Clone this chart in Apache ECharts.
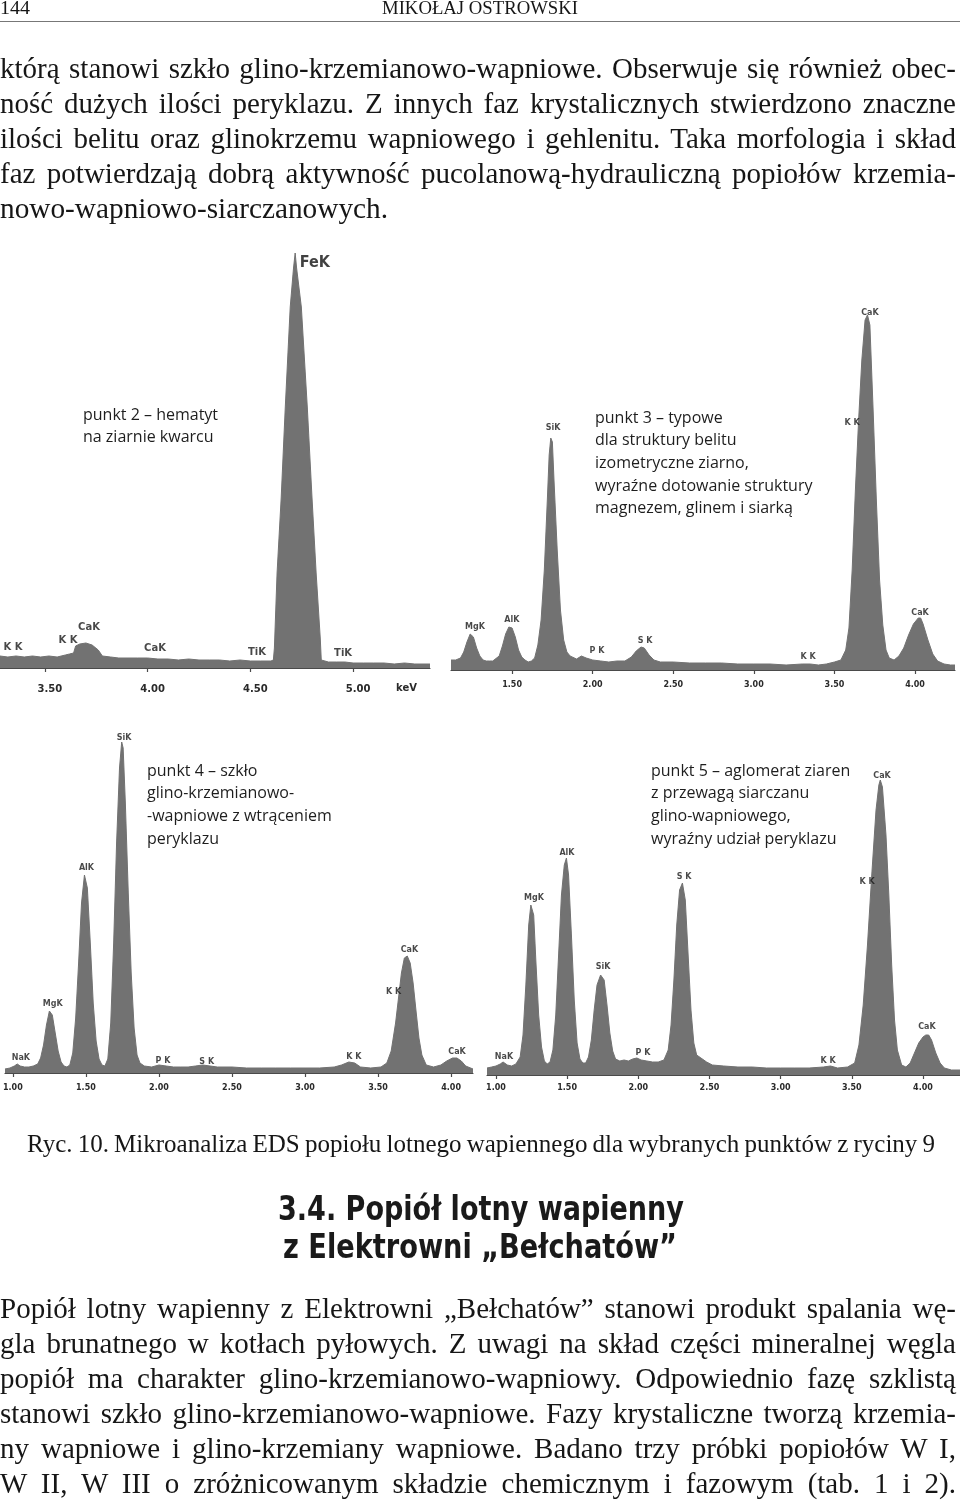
<!DOCTYPE html>
<html>
<head>
<meta charset="utf-8">
<script src="https://cdn.jsdelivr.net/npm/echarts@6/dist/echarts.min.js"></script>
<style>
  html, body { margin:0; padding:0; background:#fff; }
  body { width:960px; height:1501px; position:relative; overflow:hidden; }
  #chart { position:absolute; left:0; top:0; width:960px; height:1501px; }
  .ln { position:absolute; white-space:nowrap; line-height:35px; color:#161616;
        font-family:"Liberation Serif","DejaVu Serif",serif; font-size:29px; transform-origin:0 50%; }
  .hd { font-family:"Liberation Serif",serif; font-size:18px; line-height:20px; }
  .h2 { font-family:"DejaVu Sans Condensed","Liberation Sans",sans-serif;
        font-weight:bold; font-size:33px; line-height:40px; color:#1a1a1a; }
  #rule { position:absolute; left:0; top:21px; width:960px; height:1px; background:#777; }
</style>
</head>
<body>
<div id="chart"></div>
<div id="rule"></div>
<div id="text"></div>
<script>
// ---------------- DATA ----------------
// punkt 2 – hematyt (energy keV, counts)
const p2Energy = [3.282,3.32,3.36,3.40,3.44,3.48,3.52,3.56,3.60,3.62,3.64,3.65,3.67,3.70,3.73,3.76,3.78,3.82,3.86,3.90,3.95,4.00,4.05,4.10,4.15,4.20,4.25,4.30,4.35,4.40,4.45,4.50,4.55,4.60,4.612,4.617,4.63,4.65,4.67,4.694,4.71,4.718,4.725,4.748,4.777,4.80,4.82,4.84,4.845,4.88,4.92,4.96,5.00,5.05,5.10,5.15,5.20,5.25,5.30,5.374];
const p2Counts = [12,11,12,11,12,11,12,11,13,14,15,22,24,25,23,18,12,11,10,10,10,10,9,9,8,9,8,8,8,7,8,7,7,7,8,20,95,170,261,361,400,415,400,361,261,170,95,30,8,6,6,6,5,5,5,5,4,5,4,4];
const p2Ticks = [3.5,4.0,4.5,5.0];
const p2LabelNames = ["FeK","K K","K K","CaK","CaK","TiK","TiK"];
const p2LabelE = [4.814,3.345,3.613,3.715,4.036,4.532,4.951];
const p2LabelC = [405,21,28,41,20,16,15];

// punkt 3 – typowe dla struktury belitu
const p3Energy = [1.121,1.15,1.18,1.20,1.22,1.24,1.25,1.26,1.28,1.30,1.32,1.34,1.36,1.38,1.42,1.44,1.46,1.48,1.49,1.50,1.52,1.54,1.56,1.58,1.60,1.62,1.64,1.66,1.68,1.70,1.72,1.73,1.74,1.75,1.76,1.78,1.80,1.82,1.84,1.86,1.90,1.93,1.96,2.00,2.05,2.10,2.15,2.20,2.24,2.27,2.30,2.32,2.35,2.38,2.42,2.50,2.60,2.70,2.80,2.90,3.00,3.10,3.20,3.30,3.35,3.40,3.45,3.50,3.54,3.57,3.59,3.61,3.63,3.65,3.67,3.69,3.705,3.72,3.74,3.76,3.78,3.80,3.82,3.84,3.87,3.90,3.93,3.96,3.99,4.02,4.035,4.05,4.08,4.11,4.14,4.18,4.22,4.248];
const p3Counts = [10,10,12,18,28,36,37,33,22,14,10,9,9,9,14,24,36,43,44,42,33,20,13,10,8,9,12,25,50,100,175,215,232,228,190,120,60,30,18,14,11,14,12,10,9,8,9,9,13,19,23,22,15,10,8,8,7,7,7,6,6,6,5,6,6,5,6,8,10,20,42,100,180,250,310,350,355,345,260,170,90,45,20,12,10,14,22,35,46,52,52,46,30,16,9,6,5,5];
const p3Ticks = [1.5,2.0,2.5,3.0,3.5,4.0];
const p3LabelNames = ["MgK","AlK","SiK","P K","S K","K K","K K","CaK","CaK"];
const p3LabelE = [1.270,1.499,1.754,2.027,2.325,3.336,3.609,3.720,4.031];
const p3LabelC = [43,50,242,19,29,13,247,357,57];

// punkt 4 – szkło glino-krzemianowo-wapniowe
const p4Energy = [0.946,0.98,1.01,1.03,1.05,1.08,1.11,1.14,1.17,1.19,1.21,1.23,1.25,1.258,1.27,1.29,1.31,1.33,1.35,1.37,1.39,1.41,1.43,1.45,1.47,1.49,1.497,1.51,1.53,1.55,1.57,1.59,1.61,1.63,1.65,1.67,1.69,1.71,1.73,1.745,1.755,1.77,1.79,1.81,1.83,1.85,1.87,1.90,1.95,2.00,2.05,2.10,2.15,2.20,2.25,2.30,2.35,2.40,2.50,2.60,2.70,2.80,2.90,3.00,3.10,3.20,3.25,3.30,3.34,3.38,3.45,3.52,3.56,3.59,3.62,3.64,3.66,3.68,3.70,3.72,3.74,3.76,3.78,3.80,3.83,3.88,3.93,3.97,4.01,4.04,4.07,4.10,4.15];
const p4Counts = [4,5,7,9,7,6,6,7,9,15,28,48,62,64,58,40,22,11,7,6,8,20,55,110,170,198,200,185,130,70,32,14,8,7,14,50,130,230,305,331,325,270,180,100,45,18,10,7,6,8,7,6,6,6,7,8,7,6,6,5,5,5,5,5,5,6,8,11,10,6,5,6,10,22,50,75,100,115,117,110,90,62,35,18,8,6,8,12,15,15,12,7,4];
const p4Ticks = [1.0,1.5,2.0,2.5,3.0,3.5,4.0];
const p4LabelNames = ["NaK","MgK","AlK","SiK","P K","S K","K K","K K","CaK","CaK"];
const p4LabelE = [1.055,1.273,1.504,1.762,2.028,2.327,3.334,3.606,3.715,4.041];
const p4LabelC = [15,69,205,335,12,11,16,81,123,21];

// punkt 5 – aglomerat ziaren
const p5Energy = [0.937,0.97,1.00,1.03,1.05,1.08,1.11,1.14,1.17,1.19,1.21,1.23,1.245,1.253,1.265,1.28,1.30,1.32,1.34,1.36,1.38,1.40,1.42,1.44,1.46,1.48,1.495,1.51,1.53,1.55,1.57,1.59,1.61,1.63,1.65,1.67,1.69,1.71,1.735,1.747,1.76,1.78,1.80,1.82,1.84,1.87,1.90,1.93,1.96,1.99,2.02,2.06,2.10,2.14,2.18,2.21,2.23,2.25,2.27,2.29,2.31,2.33,2.35,2.37,2.39,2.41,2.44,2.48,2.52,2.60,2.70,2.80,2.90,3.00,3.10,3.20,3.30,3.35,3.40,3.47,3.52,3.55,3.58,3.61,3.64,3.67,3.69,3.70,3.715,3.74,3.76,3.78,3.80,3.82,3.85,3.88,3.91,3.94,3.97,4.00,4.02,4.04,4.06,4.09,4.12,4.15,4.20,4.26];
const p5Counts = [7,8,9,11,13,10,9,11,18,40,90,150,170,172,160,115,60,28,14,11,13,25,60,120,180,210,217,200,140,75,32,16,12,12,18,35,65,90,100,102,95,70,42,24,16,14,15,14,16,17,15,14,13,13,15,25,50,95,150,185,192,175,120,65,32,20,17,13,10,9,8,8,7,7,7,7,8,9,7,8,12,30,70,130,200,265,290,295,288,240,180,110,55,25,10,8,12,22,32,38,40,40,35,22,12,7,5,5];
const p5Ticks = [1.0,1.5,2.0,2.5,3.0,3.5,4.0];
const p5LabelNames = ["NaK","MgK","AlK","SiK","P K","S K","K K","K K","CaK","CaK"];
const p5LabelE = [1.056,1.267,1.499,1.752,2.033,2.321,3.333,3.607,3.712,4.028];
const p5LabelC = [18,177,222,108,22,198,14,193,299,48];

const notes = [
  "punkt 2 – hematyt\nna ziarnie kwarcu",
  "punkt 3 – typowe\ndla struktury belitu\nizometryczne ziarno,\nwyraźne dotowanie struktury\nmagnezem, glinem i siarką",
  "punkt 4 – szkło\nglino-krzemianowo-\n-wapniowe z wtrąceniem\nperyklazu",
  "punkt 5 – aglomerat ziaren\nz przewagą siarczanu\nglino-wapniowego,\nwyraźny udział peryklazu"
];

// ---------------- CHART ----------------
const FILL = '#727272';
const panels = [
  {E:p2Energy, C:p2Counts, ticks:p2Ticks, ln:p2LabelNames, le:p2LabelE, lc:p2LabelC,
   grid:{left:0, top:248, width:430, height:420}, min:3.282, max:5.374, ymax:420,
   off:5, lblSize:10, lblMargin:11, lblPad:[0,0,0,10], peakSize:10, note:[83,404]},
  {E:p3Energy, C:p3Counts, ticks:p3Ticks, ln:p3LabelNames, le:p3LabelE, lc:p3LabelC,
   grid:{left:451, top:250, width:504, height:420}, min:1.121, max:4.248, ymax:420,
   off:4, lblSize:8, lblMargin:7, lblPad:[0,0,0,0], peakSize:8, note:[595,407]},
  {E:p4Energy, C:p4Counts, ticks:p4Ticks, ln:p4LabelNames, le:p4LabelE, lc:p4LabelC,
   grid:{left:2, top:723, width:471, height:350}, min:0.946, max:4.15, ymax:350,
   off:3, lblSize:8, lblMargin:8, lblPad:[0,0,0,0], peakSize:8, note:[147,760]},
  {E:p5Energy, C:p5Counts, ticks:p5Ticks, ln:p5LabelNames, le:p5LabelE, lc:p5LabelC,
   grid:{left:487, top:725, width:473, height:350}, min:0.937, max:4.26, ymax:350,
   off:4, lblSize:8, lblMargin:5, lblPad:[0,0,0,0], peakSize:8, note:[651,760]}
];

const option = {
  animation:false,
  backgroundColor:'transparent',
  grid: panels.map(p => p.grid),
  xAxis: panels.map((p,i) => ({
    gridIndex:i, type:'value', min:p.min, max:p.max, offset:p.off,
    splitLine:{show:false},
    axisLine:{show:true, lineStyle:{color:'#4a4a4a', width:1.2}},
    axisTick:{show:true, customValues:p.ticks, length:4, lineStyle:{color:'#4a4a4a', width:1.2}},
    axisLabel:{show:true, customValues:p.ticks, formatter:v => v.toFixed(2),
      fontFamily:'DejaVu Sans', fontWeight:'bold', fontSize:p.lblSize, color:'#2a2a2a',
      margin:p.lblMargin, padding:p.lblPad}
  })),
  yAxis: panels.map((p,i) => ({gridIndex:i, type:'value', min:0, max:p.ymax, show:false})),
  series: [],
  graphic: []
};

panels.forEach((p,i) => {
  option.series.push({
    type:'line', xAxisIndex:i, yAxisIndex:i, symbol:'none', silent:true,
    data:p.E.map((e,k) => [e, p.C[k]]),
    lineStyle:{color:FILL, width:1}, areaStyle:{color:FILL, opacity:1}, z:2
  });
  option.series.push({
    type:'scatter', xAxisIndex:i, yAxisIndex:i, symbolSize:0, silent:true, z:5,
    data:p.ln.map((n,k) => ({name:n, value:[p.le[k], p.lc[k]],
      label: (i===0 && n==='FeK') ? {fontSize:16, fontFamily:'DejaVu Sans Condensed', color:'#111'} : {}})),
    label:{show:true, position:'inside', formatter:'{b}', fontFamily:'DejaVu Sans',
      fontWeight:'bold', fontSize:p.peakSize, color:'#1a1a1a'}
  });
  option.graphic.push({
    type:'text', left:p.note[0], top:p.note[1], silent:true,
    style:{text:notes[i], font:'16px "Open Sans"', fill:'#1e1e1e', lineHeight:22.6}
  });
});
option.graphic.push({
  type:'text', left:396, top:683, silent:true,
  style:{text:'keV', font:'bold 10px "DejaVu Sans"', fill:'#2a2a2a'}
});

const chart = echarts.init(document.getElementById('chart'), null, {renderer:'canvas'});
chart.setOption(option);

// ---------------- TEXT ----------------
const textLines = [
  {t:"144", cls:"hd", x:0, y:8, w:30, mode:"scale"},
  {t:"MIKOŁAJ OSTROWSKI", cls:"hd", cx:480, y:8, w:196, mode:"scale"},
  {t:"którą stanowi szkło glino-krzemianowo-wapniowe. Obserwuje się również obec-", x:0, y:68, w:956, mode:"justify"},
  {t:"ność dużych ilości peryklazu. Z innych faz krystalicznych stwierdzono znaczne", x:0, y:103, w:956, mode:"justify"},
  {t:"ilości belitu oraz glinokrzemu wapniowego i gehlenitu. Taka morfologia i skład", x:0, y:138, w:956, mode:"justify"},
  {t:"faz potwierdzają dobrą aktywność pucolanową-hydrauliczną popiołów krzemia-", x:0, y:173, w:956, mode:"justify"},
  {t:"nowo-wapniowo-siarczanowych.", x:0, y:208, w:388, mode:"scale"},
  {t:"Ryc. 10. Mikroanaliza EDS popiołu lotnego wapiennego dla wybranych punktów z ryciny 9", x:27, y:1143, w:908, mode:"justify", fs:25},
  {t:"3.4. Popiół lotny wapienny", cls:"h2", cx:481, y:1209, w:406, mode:"scale"},
  {t:"z Elektrowni „Bełchatów”", cls:"h2", cx:480, y:1247, w:394, mode:"scale"},
  {t:"Popiół lotny wapienny z Elektrowni „Bełchatów” stanowi produkt spalania wę-", x:0, y:1308, w:956, mode:"justify"},
  {t:"gla brunatnego w kotłach pyłowych. Z uwagi na skład części mineralnej węgla", x:0, y:1343, w:956, mode:"justify"},
  {t:"popiół ma charakter glino-krzemianowo-wapniowy. Odpowiednio fazę szklistą", x:0, y:1378, w:956, mode:"justify"},
  {t:"stanowi szkło glino-krzemianowo-wapniowe. Fazy krystaliczne tworzą krzemia-", x:0, y:1413, w:956, mode:"justify"},
  {t:"ny wapniowe i glino-krzemiany wapniowe. Badano trzy próbki popiołów W I,", x:0, y:1448, w:956, mode:"justify"},
  {t:"W II, W III o zróżnicowanym składzie chemicznym i fazowym (tab. 1 i 2).", x:0, y:1483, w:956, mode:"justify"}
];
const host = document.getElementById('text');
const els = textLines.map(L => {
  const d = document.createElement('div');
  d.className = 'ln' + (L.cls ? ' ' + L.cls : '');
  d.textContent = L.t;
  if (L.fs) d.style.fontSize = L.fs + 'px';
  host.appendChild(d);
  return d;
});
function layout() {
  textLines.forEach((L,i) => {
    const d = els[i];
    d.style.transform = 'none'; d.style.wordSpacing = 'normal';
    const r = d.getBoundingClientRect();
    const nat = r.width, h = r.height;
    d.style.top = (L.y - h/2) + 'px';
    const left = (L.cx !== undefined) ? L.cx - L.w/2 : L.x;
    d.style.left = left + 'px';
    const sp = (L.t.match(/ /g) || []).length;
    if (L.mode === 'justify' && sp > 0) {
      let ws = (L.w - nat) / sp;
      if (ws >= -3) { d.style.wordSpacing = ws + 'px'; }
      else { d.style.transform = 'scaleX(' + (L.w / nat) + ')'; }
    } else {
      d.style.transform = 'scaleX(' + (L.w / nat) + ')';
    }
  });
}
layout();
if (document.fonts && document.fonts.ready) document.fonts.ready.then(layout);
</script>
</body>
</html>
